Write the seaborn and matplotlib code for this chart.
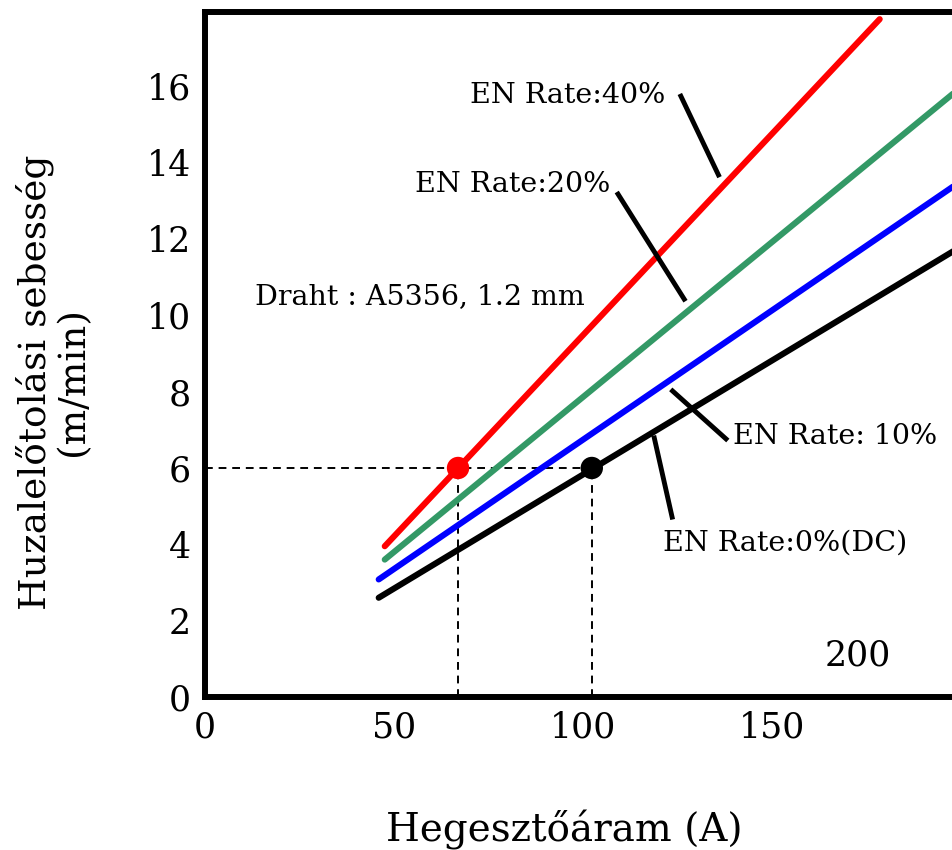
import matplotlib
matplotlib.use("Agg")
import matplotlib.pyplot as plt
import seaborn as sns
import pandas as pd

# ---- data ----
series_names = ["EN Rate:40%", "EN Rate:20%", "EN Rate: 10%", "EN Rate:0%(DC)"]
series_colors = ["#ff0000", "#339966", "#0000ff", "#000000"]
current_40 = [47.6, 178.6]
speed_40 = [3.95, 17.76]
current_20 = [47.6, 198.4]
speed_20 = [3.6, 15.84]
current_10 = [46.0, 198.4]
speed_10 = [3.08, 13.4]
current_0 = [46.0, 198.4]
speed_0 = [2.6, 11.7]
point_current = [67.0, 102.4]
point_speed = [6.0, 6.0]
point_colors = ["#ff0000", "#000000"]
x_ticks = [0, 50, 100, 150]
y_ticks = [0, 2, 4, 6, 8, 10, 12, 14, 16]

rows = []
for name, xs, ys in zip(series_names,
                        [current_40, current_20, current_10, current_0],
                        [speed_40, speed_20, speed_10, speed_0]):
    for x, y in zip(xs, ys):
        rows.append({"current": x, "speed": y, "series": name})
df = pd.DataFrame(rows)

sns.set_style("white")
plt.rcParams["font.family"] = ["DejaVu Serif"]
plt.rcParams["text.color"] = "black"
plt.rcParams["axes.labelcolor"] = "black"
plt.rcParams["xtick.color"] = "black"
plt.rcParams["ytick.color"] = "black"

fig = plt.figure(figsize=(9.53, 8.5), dpi=100)
ax = fig.add_axes([0.215, 0.18, 0.785, 0.806])

sns.lineplot(data=df, x="current", y="speed", hue="series",
             palette=dict(zip(series_names, series_colors)),
             hue_order=series_names, linewidth=4.4, legend=False, ax=ax,
             estimator=None, sort=False)

# dashed guide lines
ax.plot([0, point_current[1]], [point_speed[0], point_speed[0]], ls=(0, (4, 3)), color="black", lw=1.4, zorder=1)
for px, py in zip(point_current, point_speed):
    ax.plot([px, px], [0, py], ls=(0, (4, 3)), color="black", lw=1.4, zorder=1)

sns.scatterplot(x=point_current, y=point_speed, hue=[0, 1],
                palette=point_colors, s=260, legend=False, ax=ax,
                edgecolor="none", zorder=5)

# leader lines
leaders = [((125.7, 15.8), (136.2, 13.62)),
           ((109.0, 13.23), (127.2, 10.37)),
           ((123.3, 8.06), (138.4, 6.72)),
           ((118.8, 6.85), (123.8, 4.65))]
for (x0, y0), (x1, y1) in leaders:
    ax.plot([x0, x1], [y0, y1], color="black", lw=3.5, solid_capstyle="butt", zorder=4)

tfs = 20.5
ax.text(70.1, 15.75, "EN Rate:40%", fontsize=tfs, va="center", ha="left")
ax.text(55.6, 13.44, "EN Rate:20%", fontsize=tfs, va="center", ha="left")
ax.text(13.2, 10.5, "Draht : A5356, 1.2 mm", fontsize=tfs, va="center", ha="left")
ax.text(139.7, 6.82, "EN Rate: 10%", fontsize=tfs, va="center", ha="left")
ax.text(121.2, 4.04, "EN Rate:0%(DC)", fontsize=tfs, va="center", ha="left")
ax.text(164.0, 1.1, "200", fontsize=25, va="center", ha="left")

ax.set_xlim(0, 198)
ax.set_ylim(0, 17.95)
ax.set_xticks(x_ticks)
ax.set_yticks(y_ticks)
ax.tick_params(axis="both", direction="in", length=13, width=4.3, labelsize=25)
ax.tick_params(axis="x", pad=10)
ax.tick_params(axis="y", pad=10)

for side in ["left", "bottom", "top"]:
    ax.spines[side].set_linewidth(4.3)
    ax.spines[side].set_color("black")
ax.spines["right"].set_visible(False)

ax.set_xlabel("Hegesztőáram (A)", fontsize=28)
ax.xaxis.set_label_coords(0.481, -0.165)
ax.set_ylabel("Huzalelőtolási sebesség\n(m/min)", fontsize=27, linespacing=1.05)
ax.yaxis.set_label_coords(-0.152, 0.46)

fig.savefig("out.png", dpi=100)
